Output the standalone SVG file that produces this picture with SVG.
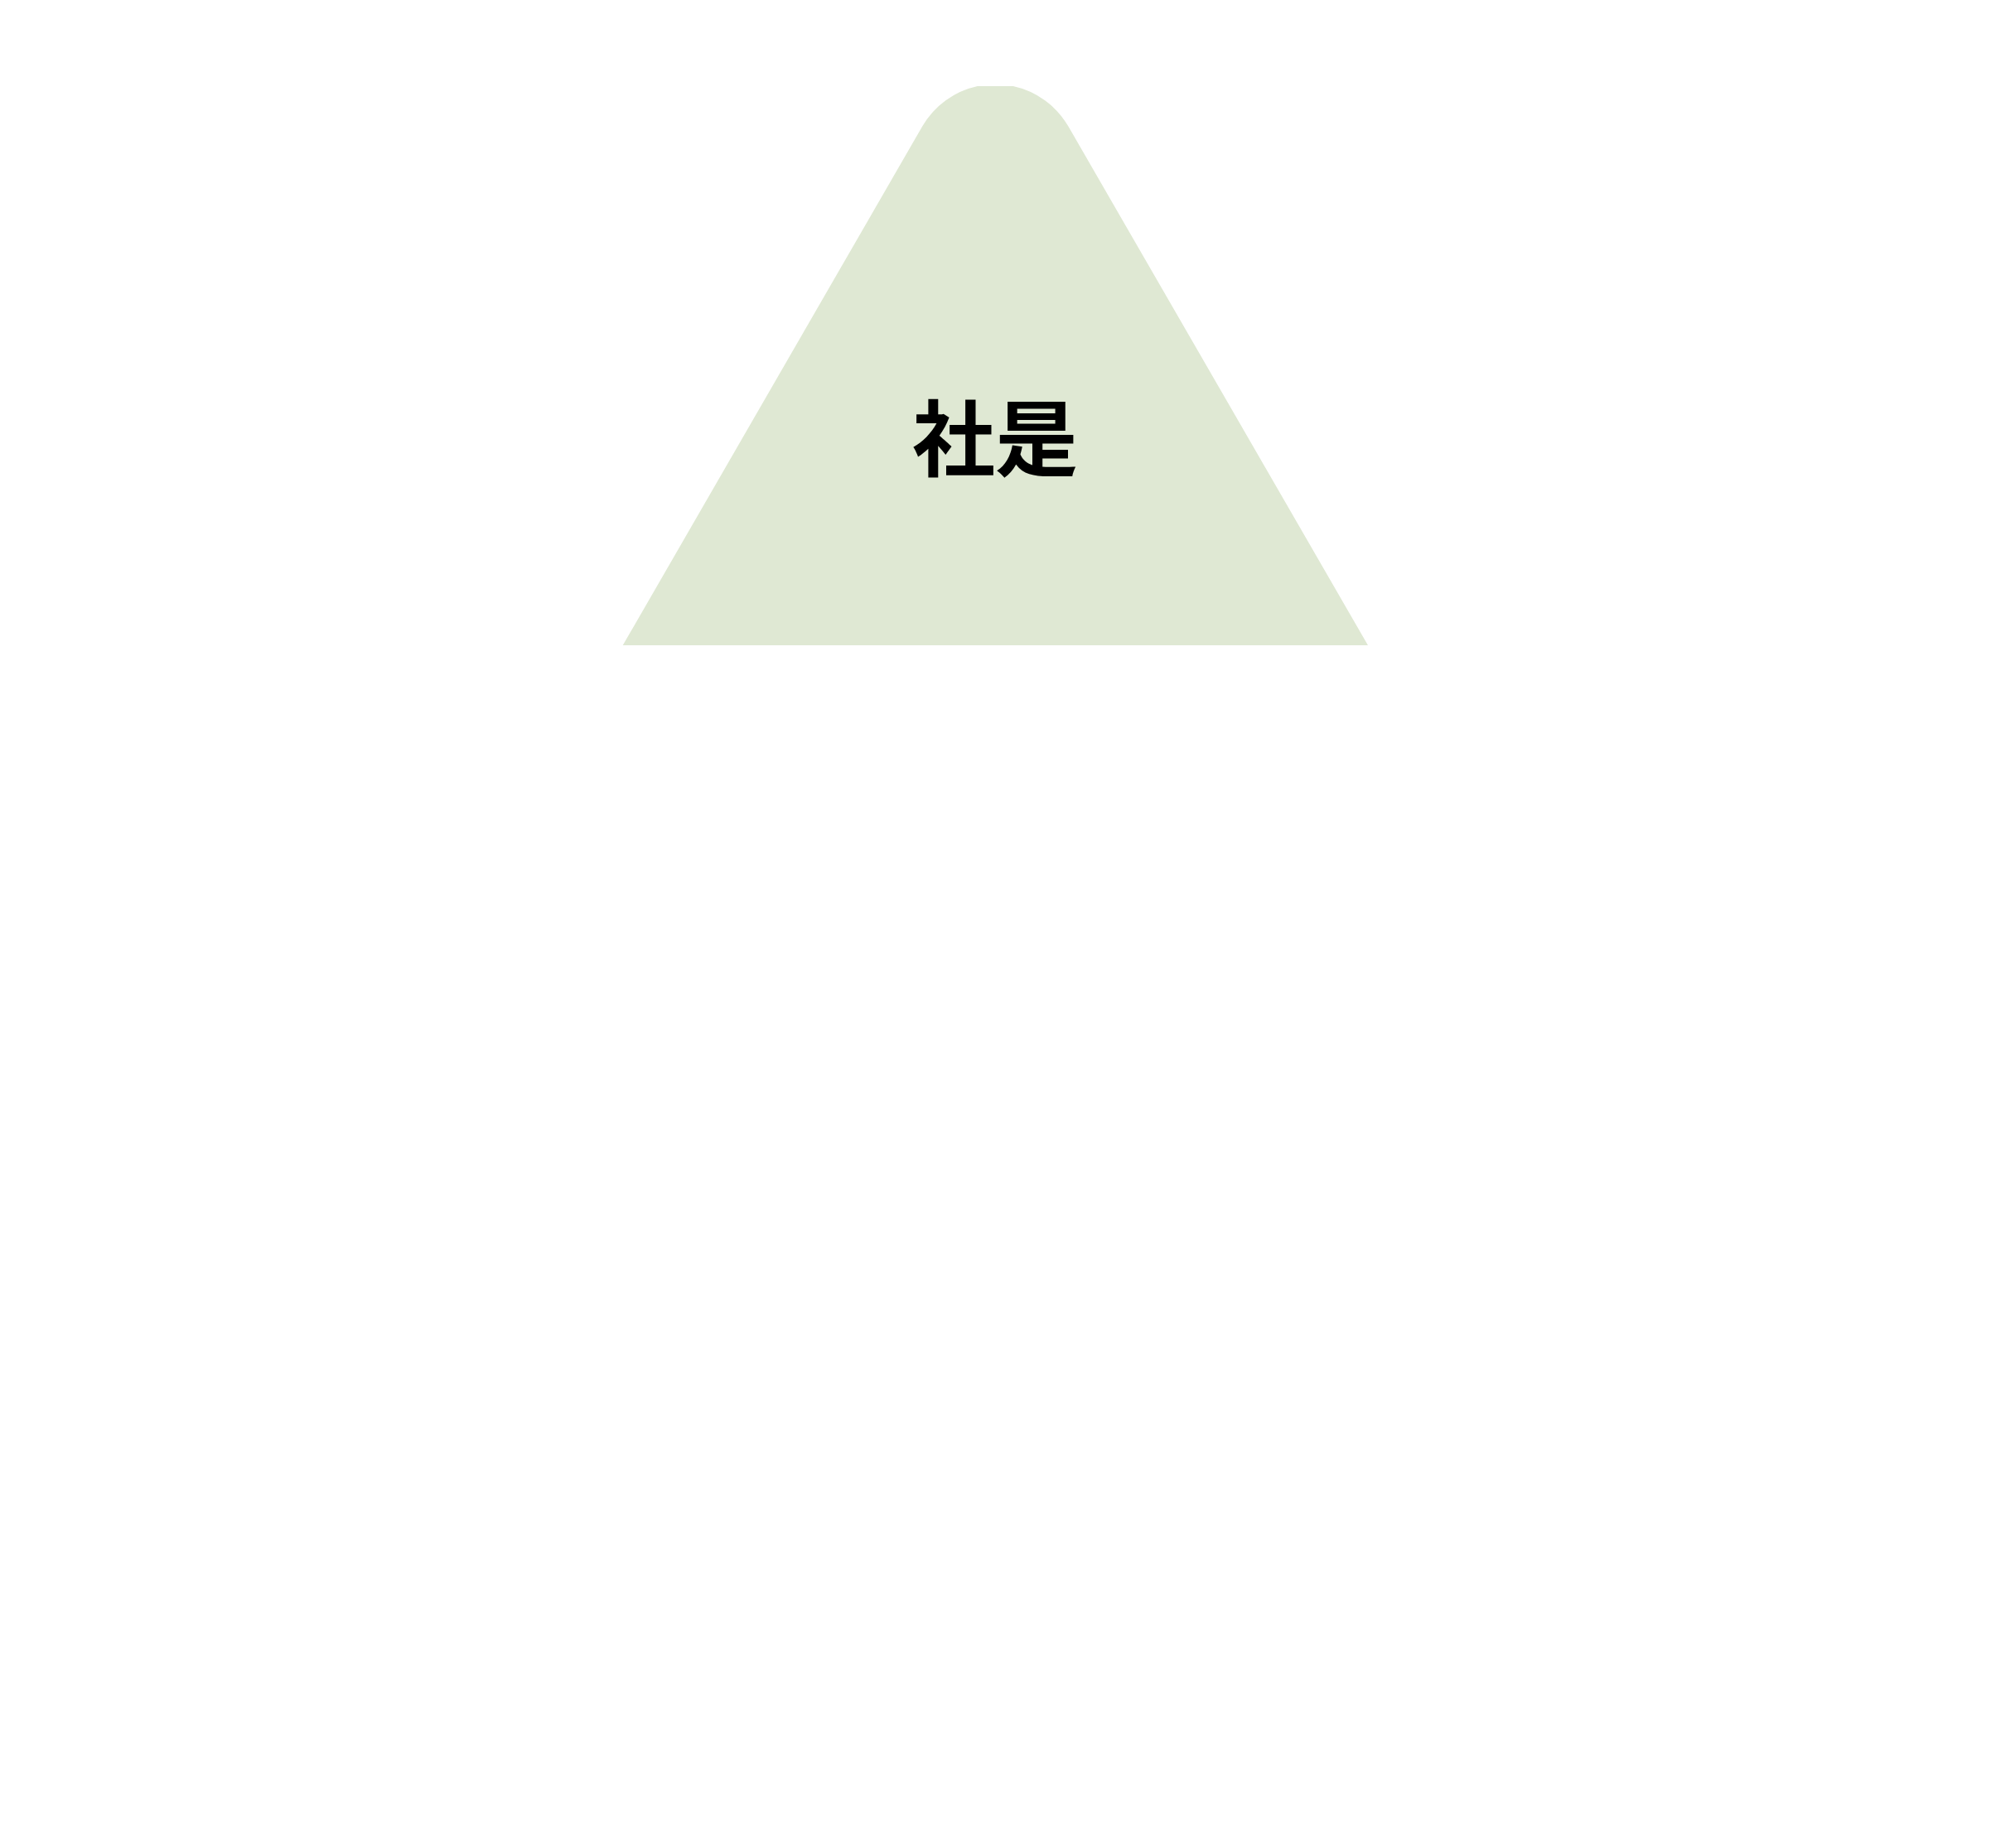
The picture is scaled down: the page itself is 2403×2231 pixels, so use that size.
<svg xmlns="http://www.w3.org/2000/svg" width="2403" height="2231" viewBox="0 0 2403 2231">
  <style>
    .shape { fill: #DFE8D3; stroke: none; }
    .label { font-family: "Noto Sans CJK JP", "Noto Sans CJK SC", sans-serif; font-weight: bold; font-size: 100px; fill: #000000; text-anchor: middle; }
  </style>
  <rect x="0" y="0" width="2403" height="2231" fill="#FFFFFF"/>
  <g id="node-shaze">
    <path class="shape" d="M751.7,779 L1113.2,152.6 A101.7,101.7 0 0 1 1179.8,104 L1222.8,104 A101.7,101.7 0 0 1 1289.4,152.6 L1651,779 Z"/>
    <text class="label" x="1201" y="567">社是</text>
  </g>
  <g id="connectors"></g>
</svg>
